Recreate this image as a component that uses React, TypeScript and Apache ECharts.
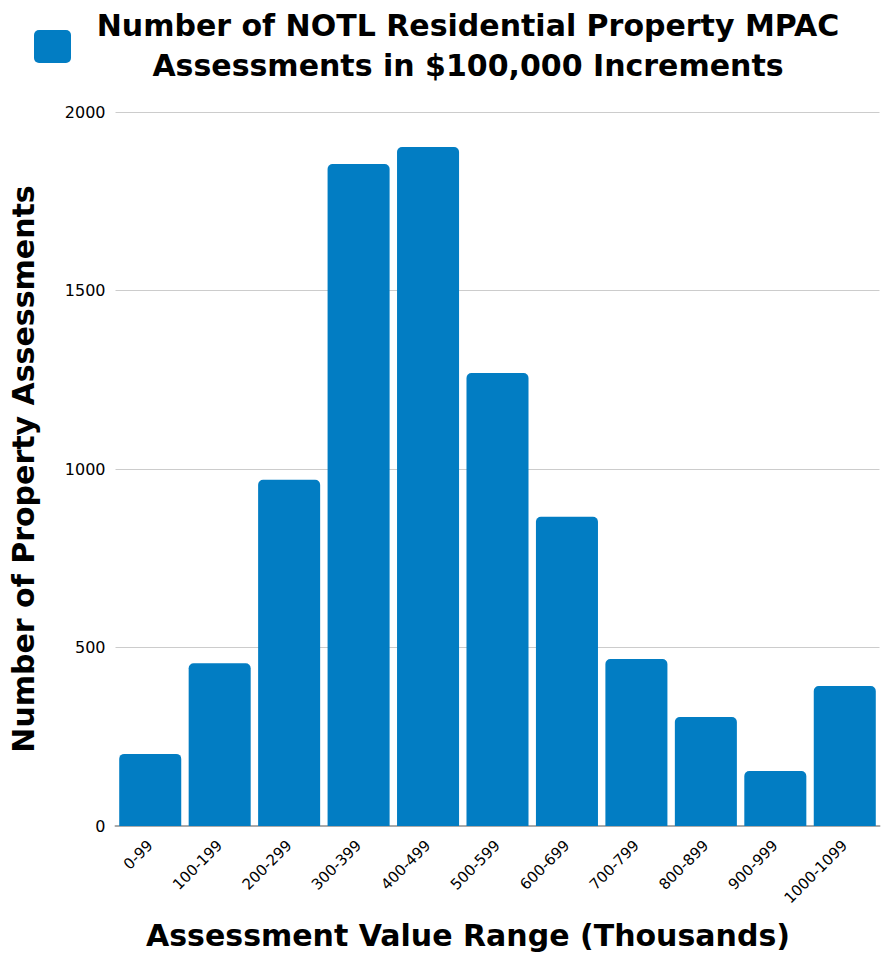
import React, { useEffect, useRef } from "react";
import * as echarts from "echarts";

const categories = ["0-99", "100-199", "200-299", "300-399", "400-499", "500-599", "600-699", "700-799", "800-899", "900-999", "1000-1099"];
const counts = [202, 456, 970, 1854, 1902, 1269, 866, 468, 305, 154, 392];
const yTicks = [0, 500, 1000, 1500, 2000];

export default function App() {
  const ref = useRef<HTMLDivElement>(null);
  useEffect(() => {
    const chart = echarts.init(ref.current!, null, { renderer: "svg" });
    const fontFamily = "'DejaVu Sans', sans-serif";
    chart.setOption({
      animation: false,
      title: {
        text: "Number of NOTL Residential Property MPAC\nAssessments in $100,000 Increments",
        left: 463,
        textAlign: "center",
        top: 0,
        textStyle: { fontFamily, fontWeight: "bold", fontSize: 30, lineHeight: 40, color: "#000" },
      },
      graphic: [
        {
          type: "rect",
          shape: { x: 34, y: 30, width: 37, height: 33, r: 5 },
          style: { fill: "#027dc3" },
        },
      ],
      grid: { left: 115.5, right: 5.5, top: 112, bottom: 127, outerBoundsMode: "none", containLabel: false },
      xAxis: {
        type: "category",
        data: categories,
        name: "Assessment Value Range (Thousands)",
        nameLocation: "middle",
        nameGap: 94,
        nameTextStyle: { fontFamily, fontWeight: "bold", fontSize: 30, color: "#000", padding: [0, 59, 0, 0] },
        axisLine: { lineStyle: { color: "#aaaaaa", width: 2 } },
        axisTick: { show: false },
        axisLabel: { rotate: 45, fontFamily, fontSize: 15, color: "#000", margin: 17, interval: 0 },
      },
      yAxis: {
        type: "value",
        min: yTicks[0],
        max: yTicks[yTicks.length - 1],
        interval: 500,
        name: "Number of Property Assessments",
        nameLocation: "middle",
        nameGap: 77,
        nameTextStyle: { fontFamily, fontWeight: "bold", fontSize: 30, color: "#000" },
        axisLine: { show: false },
        axisTick: { show: false },
        axisLabel: { fontFamily, fontSize: 16, color: "#000", margin: 10, formatter: (v: number) => String(v) },
        splitLine: { lineStyle: { color: "#cccccc", width: 1 } },
      },
      series: [
        {
          type: "bar",
          data: counts,
          barCategoryGap: "10.7%",
          itemStyle: { color: "#027dc3", borderRadius: [5, 5, 0, 0] },
        },
      ],
    });
    return () => chart.dispose();
  }, []);
  return <div ref={ref} style={{ width: 885, height: 953, position: "absolute", left: 0, top: 0 }} />;
}
